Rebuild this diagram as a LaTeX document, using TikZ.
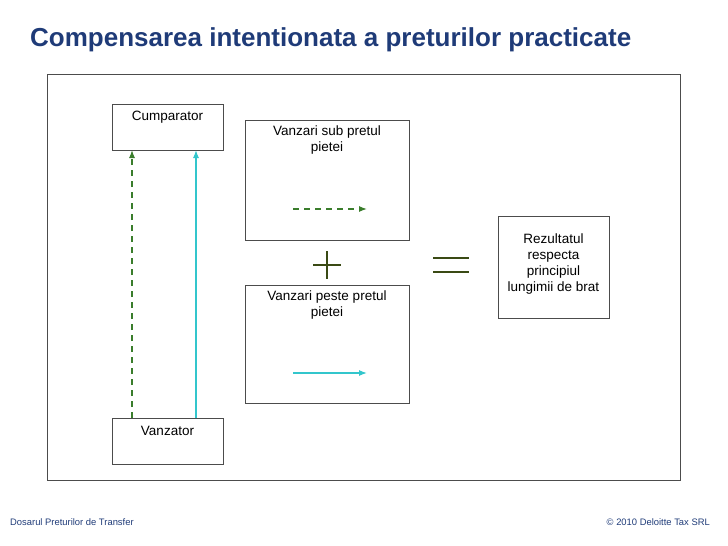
\documentclass[tikz,border=0pt]{standalone}
\usepackage{fontspec}
\setmainfont{Liberation Sans}
\usetikzlibrary{arrows.meta}
\definecolor{titleblue}{HTML}{1F3B78}
\definecolor{dgreen}{HTML}{3A7D2C}
\definecolor{cyanl}{HTML}{33C6CC}
\definecolor{olive}{HTML}{3A4A14}
\tikzset{box/.style={draw=black!70,line width=0.6pt},
lbl/.style={font=\fontsize{13.5}{16}\selectfont,align=center},
garr/.style={dgreen,line width=1.2pt,dash pattern=on 6pt off 5pt,-{Latex[length=8pt,width=6pt]}},
carr/.style={cyanl,line width=1.2pt,-{Latex[length=8pt,width=6pt]}}}
\begin{document}
\begin{tikzpicture}[x=1pt,y=-1pt]
\useasboundingbox (0,0) rectangle (728,546);
\node[anchor=west,font=\fontsize{26}{30}\bfseries\selectfont,text=titleblue,inner sep=0] (title) at (30,40) {Compensarea intentionata a preturilor practicate};
\draw[black!70,line width=0.6pt] (47,74) rectangle (680,480);
\draw[box] (112,104) rectangle (223,150);
\node[lbl] (cump) at (167.5,117) {Cumparator};
\draw[box] (112,418) rectangle (223,464);
\node[lbl] (vanz) at (167.5,431) {Vanzator};
\coordinate (g1) at (132,418); \coordinate (g2) at (132,150);
\coordinate (c1) at (196,418); \coordinate (c2) at (196,150);
\draw[garr] (g1) -- (g2);
\draw[carr] (c1) -- (c2);
\draw[box] (245,120) rectangle (409,240);
\node[lbl] (sub) at (327,140) {Vanzari sub pretul\\pietei};
\coordinate (s1) at (293,209); \coordinate (s2) at (367,209);
\draw[garr] (s1) -- (s2);
\draw[box] (245,285) rectangle (409,403);
\node[lbl] (peste) at (327,305) {Vanzari peste pretul\\pietei};
\coordinate (p1) at (293,373); \coordinate (p2) at (367,373);
\draw[carr] (p1) -- (p2);
\draw[olive,line width=2pt] (313,265) -- (341,265) (327,251) -- (327,279);
\draw[olive,line width=2pt] (433,258) -- (469,258) (433,272) -- (469,272);
\draw[box] (498,216) rectangle (609,318);
\node[lbl] (rez) at (553.5,264) {Rezultatul\\respecta\\principiul\\lungimii de brat};
\node[anchor=west,font=\fontsize{9.4}{11}\selectfont,text=titleblue,inner sep=0] (f1) at (10,522) {Dosarul Preturilor de Transfer};
\node[anchor=east,font=\fontsize{9.4}{11}\selectfont,text=titleblue,inner sep=0] (f2) at (710,522) {© 2010 Deloitte Tax SRL};
\end{tikzpicture}
\end{document}
